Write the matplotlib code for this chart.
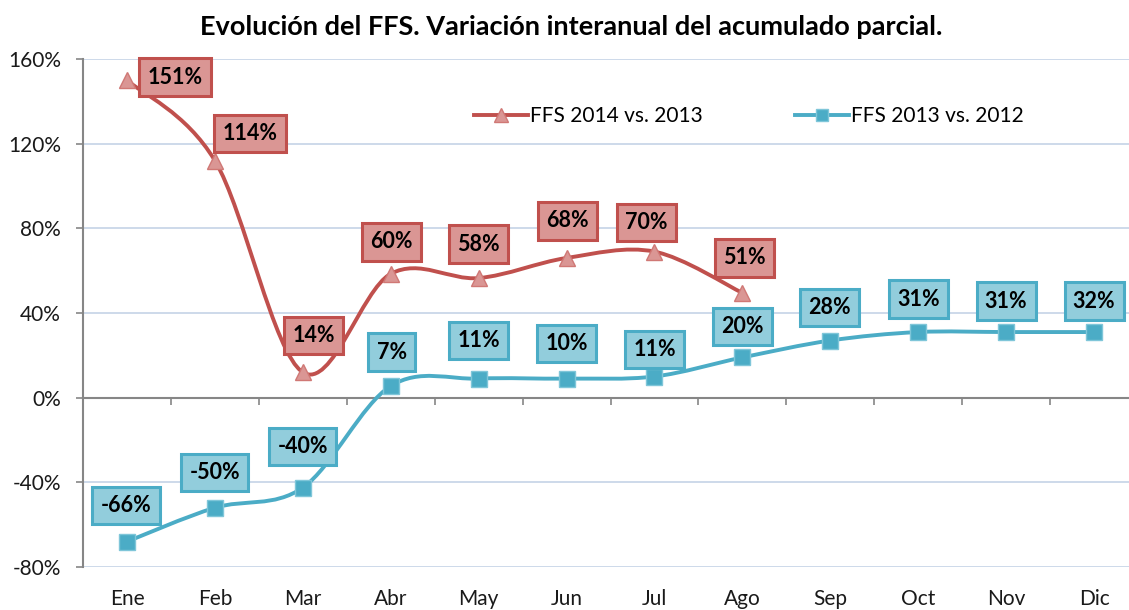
import numpy as np
import matplotlib
matplotlib.use("Agg")
from matplotlib import pyplot as plt
from matplotlib.path import Path
from matplotlib.patches import PathPatch
from matplotlib.lines import Line2D
import matplotlib.transforms as mtransforms

plt.rcParams["font.family"] = ["Lato", "DejaVu Sans"]

months = ["Ene", "Feb", "Mar", "Abr", "May", "Jun", "Jul", "Ago",
          "Sep", "Oct", "Nov", "Dic"]
ffs_2014 = [150, 112, 12, 58.5, 56.5, 66, 69, 49.5]
ffs_2013 = [-68, -52, -42.5, 5.5, 9, 9, 10, 19, 27, 31, 31, 31]
labels_2014 = ["151%", "114%", "14%", "60%", "58%", "68%", "70%", "51%"]
labels_2013 = ["-66%", "-50%", "-40%", "7%", "11%", "10%", "11%", "20%",
               "28%", "31%", "31%", "32%"]

# label offsets in pixels (dx, dy) from the marker
off_2014 = [(48, 3), (35, 27), (11, 37), (1, 32), (0, 34), (1, 37), (-8, 29), (2, 35)]
off_2013 = [(-1, 36), (0, 35), (0, 41), (1, 34), (0, 38), (0, 35), (0, 27), (0, 31),
            (-1, 33), (0, 33), (0, 31), (0, 31)]

RED, RED_FILL = "#C0504D", "#DA9694"
BLUE, BLUE_FILL = "#4BACC6", "#92CDDC"


def smooth_path(xs, ys):
    # Catmull-Rom style bezier through the points (like Excel's smoothed line)
    pts = np.column_stack([xs, ys]).astype(float)
    n = len(pts)
    verts = [pts[0]]
    codes = [Path.MOVETO]
    for i in range(n - 1):
        p0 = pts[max(i - 1, 0)]
        p1 = pts[i]
        p2 = pts[i + 1]
        p3 = pts[min(i + 2, n - 1)]
        c1 = p1 + (p2 - p0) / 6.0
        c2 = p2 - (p3 - p1) / 6.0
        verts += [c1, c2, p2]
        codes += [Path.CURVE4] * 3
    return Path(verts, codes)


fig = plt.figure(figsize=(11.29, 6.10), dpi=100)
ax = fig.add_axes([83 / 1129, 1 - 567 / 610, (1138 - 83) / 1129, (567 - 59) / 610])

ax.set_xlim(-0.5, 11.5)
ax.set_ylim(-80, 160)
ax.set_yticks(np.arange(-80, 161, 40))
ax.set_yticklabels(["%d%%" % v for v in np.arange(-80, 161, 40)])
ax.grid(axis="y", color="#C5D3E6", linewidth=1.2)
ax.set_axisbelow(True)

for s in ["top", "right"]:
    ax.spines[s].set_visible(False)
ax.spines["left"].set_color("#868686")
ax.spines["left"].set_linewidth(1.5)
ax.spines["bottom"].set_position(("data", 0))
ax.spines["bottom"].set_color("#868686")
ax.spines["bottom"].set_linewidth(1.5)
ax.spines["bottom"].set_zorder(1)

ax.set_xticks(np.arange(0.5, 11.5, 1))
ax.set_xticklabels([])
ax.tick_params(axis="x", length=5, width=1.2, color="#868686", direction="out")
ax.tick_params(axis="y", length=5, width=1.2, color="#868686", pad=11,
               labelsize=15, labelcolor="#1a1a1a")

trans = mtransforms.blended_transform_factory(ax.transData, ax.transAxes)
for i, m in enumerate(months):
    ax.text(i, -0.063, m, transform=trans, ha="center", va="center",
            fontsize=15, color="#1a1a1a")

x14 = np.arange(len(ffs_2014))
x13 = np.arange(len(ffs_2013))

ax.add_patch(PathPatch(smooth_path(x14, ffs_2014), fill=False, edgecolor=RED,
                       linewidth=2.8, zorder=3, capstyle="round"))
ax.add_patch(PathPatch(smooth_path(x13, ffs_2013), fill=False, edgecolor=BLUE,
                       linewidth=2.8, zorder=3, capstyle="round"))

ax.plot(x14, ffs_2014, linestyle="none", marker="^", markersize=12,
        markerfacecolor=RED_FILL, markeredgecolor="#D07875", zorder=4)
ax.plot(x13, ffs_2013, linestyle="none", marker="s", markersize=11,
        markerfacecolor=BLUE, markeredgecolor="#7FC6D9", zorder=4)

for i, (v, lab) in enumerate(zip(ffs_2014, labels_2014)):
    ax.annotate(lab, (i, v), xytext=off_2014[i], textcoords="offset pixels",
                ha="center", va="center", fontsize=15.5, fontweight="bold",
                color="black", zorder=6,
                bbox=dict(boxstyle="square,pad=0.38", facecolor=RED_FILL,
                          edgecolor=RED, linewidth=2.2))
for i, (v, lab) in enumerate(zip(ffs_2013, labels_2013)):
    ax.annotate(lab, (i, v), xytext=off_2013[i], textcoords="offset pixels",
                ha="center", va="center", fontsize=15.5, fontweight="bold",
                color="black", zorder=6,
                bbox=dict(boxstyle="square,pad=0.38", facecolor=BLUE_FILL,
                          edgecolor=BLUE, linewidth=2.2))

handles = [
    Line2D([], [], color=RED, linewidth=2.8, marker="^", markersize=10,
           markerfacecolor=RED_FILL, markeredgecolor="#D07875"),
    Line2D([], [], color=BLUE, linewidth=2.8, marker="s", markersize=9,
           markerfacecolor=BLUE, markeredgecolor="#7FC6D9"),
]
fig.legend(handles, ["FFS 2014 vs. 2013", "FFS 2013 vs. 2012"], ncol=2,
           loc="center", bbox_to_anchor=(749 / 1129, 1 - 116 / 610),
           frameon=False, fontsize=15, handlelength=2.6, handletextpad=0.1,
           columnspacing=4.4)

fig.text(571 / 1129, 1 - 27 / 610,
         "Evolución del FFS. Variación interanual del acumulado parcial.",
         ha="center", va="center", fontsize=19.5, fontweight="bold")

fig.savefig("out.png", dpi=100)
